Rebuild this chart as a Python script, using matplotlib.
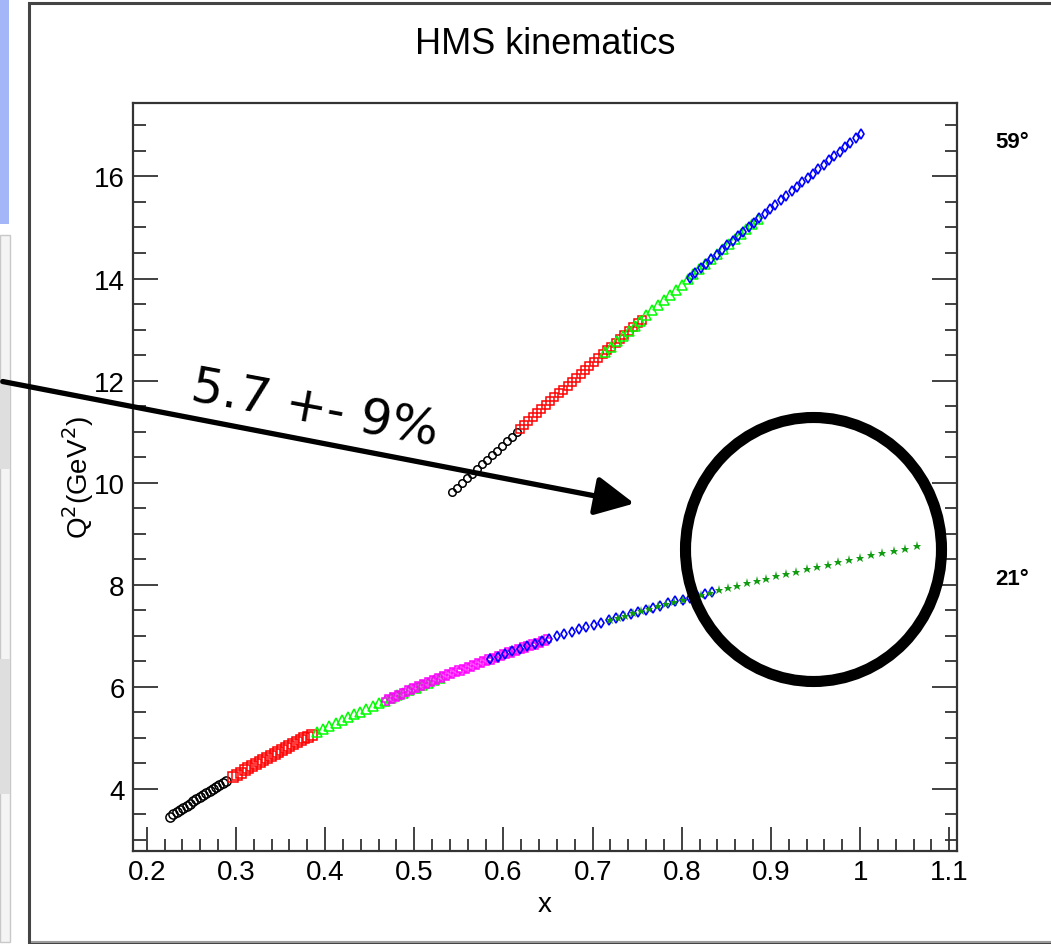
import matplotlib
matplotlib.use("Agg")
import matplotlib.pyplot as plt
from matplotlib.patches import Rectangle, Ellipse, FancyArrowPatch
from matplotlib.ticker import MultipleLocator

plt.rcParams['font.family'] = ['Liberation Sans', 'DejaVu Sans']

# ---- 59 degree setting (upper band) ----
x59_black = [0.5420, 0.5476, 0.5532, 0.5588, 0.5644, 0.5700, 0.5756, 0.5812, 0.5868,
             0.5924, 0.5980, 0.6036, 0.6092, 0.6148]
q59_black = [9.808, 9.900, 9.992, 10.084, 10.175, 10.266, 10.357, 10.448, 10.539,
             10.629, 10.719, 10.809, 10.899, 10.989]

x59_red = [0.6180, 0.6229, 0.6278, 0.6327, 0.6376, 0.6425, 0.6474, 0.6523, 0.6572, 0.6621,
           0.6670, 0.6719, 0.6768, 0.6817, 0.6866, 0.6915, 0.6964, 0.7013, 0.7062, 0.7111,
           0.7160, 0.7209, 0.7258, 0.7307, 0.7356, 0.7405, 0.7454, 0.7503, 0.7552]
q59_red = [11.044, 11.123, 11.201, 11.280, 11.358, 11.436, 11.514, 11.592, 11.670, 11.747,
           11.824, 11.901, 11.978, 12.055, 12.132, 12.209, 12.285, 12.362, 12.438, 12.514,
           12.590, 12.666, 12.742, 12.818, 12.894, 12.969, 13.045, 13.120, 13.195]

x59_green = [0.7140, 0.7206, 0.7272, 0.7338, 0.7404, 0.7470, 0.7536, 0.7602, 0.7668,
             0.7734, 0.7800, 0.7866, 0.7932, 0.7998, 0.8064, 0.8130, 0.8196, 0.8262,
             0.8328, 0.8394, 0.8460, 0.8526, 0.8592, 0.8658, 0.8724, 0.8790, 0.8856]
q59_green = [12.562, 12.665, 12.767, 12.869, 12.971, 13.073, 13.175, 13.277, 13.378,
             13.479, 13.580, 13.681, 13.781, 13.881, 13.981, 14.081, 14.181, 14.280,
             14.379, 14.478, 14.577, 14.676, 14.774, 14.872, 14.970, 15.068, 15.165]

x59_blue = [0.809, 0.815, 0.821, 0.827, 0.833, 0.839, 0.845, 0.851, 0.857, 0.863, 0.869,
            0.875, 0.881, 0.887, 0.893, 0.899, 0.905, 0.911, 0.917, 0.923, 0.929, 0.935,
            0.941, 0.947, 0.953, 0.959, 0.965, 0.971, 0.977, 0.983, 0.989, 0.995, 1.001]
q59_blue = [14.018, 14.109, 14.199, 14.289, 14.379, 14.469, 14.559, 14.649, 14.738,
            14.827, 14.916, 15.005, 15.094, 15.183, 15.271, 15.359, 15.447, 15.535,
            15.623, 15.710, 15.797, 15.884, 15.971, 16.058, 16.145, 16.231, 16.317,
            16.403, 16.489, 16.575, 16.661, 16.746, 16.831]

# ---- 21 degree setting (lower band) ----
x21_black = [0.2260, 0.2297, 0.2334, 0.2371, 0.2408, 0.2445, 0.2482, 0.2519, 0.2556,
             0.2593, 0.2630, 0.2667, 0.2704, 0.2741, 0.2778, 0.2815, 0.2852, 0.2889]
q21_black = [3.455, 3.498, 3.541, 3.584, 3.626, 3.668, 3.710, 3.752, 3.793,
             3.833, 3.874, 3.914, 3.954, 3.994, 4.033, 4.072, 4.111, 4.149]

x21_red = [0.2970, 0.3012, 0.3054, 0.3096, 0.3138, 0.3180, 0.3222, 0.3264, 0.3306, 0.3348,
           0.3390, 0.3432, 0.3474, 0.3516, 0.3558, 0.3600, 0.3642, 0.3684, 0.3726, 0.3768,
           0.3810, 0.3852]
q21_red = [4.233, 4.276, 4.318, 4.360, 4.402, 4.443, 4.484, 4.525, 4.565, 4.605,
           4.645, 4.684, 4.723, 4.762, 4.800, 4.838, 4.876, 4.913, 4.950, 4.987,
           5.023, 5.060]

x21_green = [0.3910, 0.3979, 0.4048, 0.4117, 0.4186, 0.4255, 0.4324, 0.4393, 0.4462,
             0.4531, 0.4600, 0.4669, 0.4738, 0.4807, 0.4876, 0.4945, 0.5014, 0.5083,
             0.5152, 0.5221, 0.5290]
q21_green = [5.114, 5.173, 5.231, 5.289, 5.346, 5.402, 5.458, 5.513, 5.568,
             5.622, 5.675, 5.727, 5.779, 5.830, 5.880, 5.930, 5.980, 6.029,
             6.077, 6.125, 6.172]

x21_magenta = [0.4690, 0.4746, 0.4802, 0.4858, 0.4914, 0.4970, 0.5026, 0.5082, 0.5138,
               0.5194, 0.5250, 0.5306, 0.5362, 0.5418, 0.5474, 0.5530, 0.5586, 0.5642,
               0.5698, 0.5754, 0.5810, 0.5866, 0.5922, 0.5978, 0.6034, 0.6090, 0.6146,
               0.6202, 0.6258, 0.6314, 0.6370, 0.6426, 0.6482]
q21_magenta = [5.741, 5.783, 5.825, 5.866, 5.907, 5.948, 5.989, 6.029, 6.069,
               6.108, 6.147, 6.186, 6.224, 6.262, 6.299, 6.336, 6.372, 6.408,
               6.444, 6.479, 6.514, 6.549, 6.583, 6.617, 6.651, 6.684, 6.717,
               6.750, 6.782, 6.814, 6.846, 6.878, 6.909]

x21_blue = [0.5850, 0.5933, 0.6016, 0.6099, 0.6182, 0.6265, 0.6348, 0.6431, 0.6514,
            0.6597, 0.6680, 0.6763, 0.6846, 0.6929, 0.7012, 0.7095, 0.7178, 0.7261,
            0.7344, 0.7427, 0.7510, 0.7593, 0.7676, 0.7759, 0.7842, 0.7925, 0.8008,
            0.8091, 0.8174, 0.8257, 0.8340]
q21_blue = [6.539, 6.591, 6.642, 6.692, 6.742, 6.792, 6.841, 6.889, 6.937,
            6.984, 7.031, 7.077, 7.123, 7.168, 7.213, 7.257, 7.300, 7.343,
            7.385, 7.427, 7.469, 7.510, 7.551, 7.591, 7.631, 7.670, 7.709,
            7.748, 7.786, 7.824, 7.861]

x21_star = [0.7196, 0.7281, 0.7367, 0.7455, 0.7545, 0.7635, 0.7728, 0.7821, 0.7916,
            0.8013, 0.8111, 0.8210, 0.8311, 0.8414, 0.8518, 0.8623, 0.8730, 0.8838,
            0.8947, 0.9059, 0.9171, 0.9285, 0.9401, 0.9518, 0.9636, 0.9756, 0.9877,
            1.0000, 1.0124, 1.0250, 1.0377, 1.0505, 1.0635]
q21_star = [7.308, 7.351, 7.395, 7.440, 7.484, 7.529, 7.574, 7.618, 7.664,
            7.709, 7.754, 7.799, 7.845, 7.891, 7.937, 7.982, 8.028, 8.073,
            8.119, 8.165, 8.210, 8.256, 8.302, 8.347, 8.393, 8.438, 8.483,
            8.528, 8.573, 8.619, 8.664, 8.708, 8.753]

angle_labels = ["59\u00b0", "21\u00b0"]

W, H = 1051, 945
fig = plt.figure(figsize=(W / 100, H / 100), dpi=100)

def fx(px):
    return px / W

def fy(py):
    return 1 - py / H

# slide pieces on the left edge
fig.patches.append(Rectangle((0, fy(225)), fx(9), 225 / H, transform=fig.transFigure,
                             facecolor='#a4b6f7', edgecolor='none', zorder=0))
fig.patches.append(Rectangle((0, fy(943)), fx(10), (943 - 236) / H, transform=fig.transFigure,
                             facecolor='#f4f4f4', edgecolor='#c8c8c8', lw=1.0, zorder=0))
for top, bot in [(385, 470), (660, 795)]:
    fig.patches.append(Rectangle((0, fy(bot)), fx(10), (bot - top) / H, transform=fig.transFigure,
                                 facecolor='#dedede', edgecolor='none', zorder=0))

# canvas frame
fig.patches.append(Rectangle((fx(29), fy(943)), fx(1060 - 29), (943 - 4) / H, transform=fig.transFigure,
                             facecolor='white', edgecolor='#444444', lw=2.2, zorder=1))
fig.patches.append(Rectangle((fx(31), fy(944)), fx(1060 - 31), 2 / H, transform=fig.transFigure,
                             facecolor='#9a9a9a', edgecolor='none', zorder=1))

ax = fig.add_axes([fx(133), fy(852), fx(957 - 133), (852 - 104) / H])
ax.set_zorder(2)
ax.set_facecolor('white')

ms_kw = dict(linestyle='none', markerfacecolor='none')
# upper band
ax.plot(x59_black, q59_black, marker='o', color='black', ms=5.4, mew=1.1, **ms_kw)
ax.plot(x59_red, q59_red, marker='s', color='#ff0000', ms=5.8, mew=1.1, **ms_kw)
ax.plot(x59_green, q59_green, marker='^', color='#00ff00', ms=7.0, mew=1.1, **ms_kw)
ax.plot(x59_blue, q59_blue, marker='d', color='#0000ff', ms=5.2, mew=1.2, **ms_kw)
# lower band
ax.plot(x21_black, q21_black, marker='o', color='black', ms=6.6, mew=1.1, **ms_kw)
ax.plot(x21_red, q21_red, marker='s', color='#ff0000', ms=6.8, mew=1.1, **ms_kw)
ax.plot(x21_green, q21_green, marker='^', color='#00ff00', ms=7.6, mew=1.1, **ms_kw)
ax.plot(x21_magenta, q21_magenta, marker='P', color='#ff00ff', ms=7.0, mew=1.1, **ms_kw)
ax.plot(x21_blue, q21_blue, marker='d', color='#0000ff', ms=5.0, mew=1.2, **ms_kw)
ax.plot(x21_star, q21_star, marker='*', color='#119c11', ms=6.6, mew=0, linestyle='none')

ax.set_xlim(0.1845, 1.1086)
ax.set_ylim(2.78, 17.44)
ax.xaxis.set_major_locator(MultipleLocator(0.1))
ax.xaxis.set_minor_locator(MultipleLocator(0.02))
ax.yaxis.set_major_locator(MultipleLocator(2))
ax.yaxis.set_minor_locator(MultipleLocator(0.5))
ax.set_xticks([0.2, 0.3, 0.4, 0.5, 0.6, 0.7, 0.8, 0.9, 1.0, 1.1])
ax.set_xticklabels(['0.2', '0.3', '0.4', '0.5', '0.6', '0.7', '0.8', '0.9', '1', '1.1'])
ax.set_yticks([4, 6, 8, 10, 12, 14, 16])
ax.set_yticklabels(['4', '6', '8', '10', '12', '14', '16'])
ax.tick_params(axis='both', which='both', direction='in', color='#333333', width=1.3,
               labelsize=20, pad=6)
ax.tick_params(axis='x', which='major', length=17)
ax.tick_params(axis='x', which='minor', length=9)
ax.tick_params(axis='y', which='major', length=18, right=True)
ax.tick_params(axis='y', which='minor', length=9, right=True)
for sp in ax.spines.values():
    sp.set_color('#333333')
    sp.set_linewidth(1.6)

ax.set_xlabel('x', fontsize=20, labelpad=4)
ax.set_ylabel(r'Q$^{2}$(GeV$^{2}$)', fontsize=20, labelpad=-2)

fig.text(fx(545), fy(45), 'HMS kinematics', ha='center', va='center', fontsize=26)
fig.text(fx(1012), fy(143), angle_labels[0], ha='center', va='center', fontsize=16, fontweight='bold')
fig.text(fx(1012), fy(580), angle_labels[1], ha='center', va='center', fontsize=16, fontweight='bold')

# hand-drawn annotation
fig.text(fx(315), fy(410), '5.7 +- 9%', ha='center', va='center', rotation=-10.5,
         fontsize=36, family=['DejaVu Sans'], zorder=5)
arrow = FancyArrowPatch((fx(0), fy(382)), (fx(637), fy(505)), transform=fig.transFigure,
                        arrowstyle='-|>,head_length=1.7,head_width=0.85', mutation_scale=14,
                        lw=3.8, color='black', zorder=5)
fig.patches.append(arrow)
circ = Ellipse((fx(813.5), fy(550.5)), 2 * 128 / W, 2 * 132 / H, transform=fig.transFigure,
               facecolor='none', edgecolor='black', lw=8, zorder=5)
fig.patches.append(circ)

fig.savefig('out.png', dpi=100)
